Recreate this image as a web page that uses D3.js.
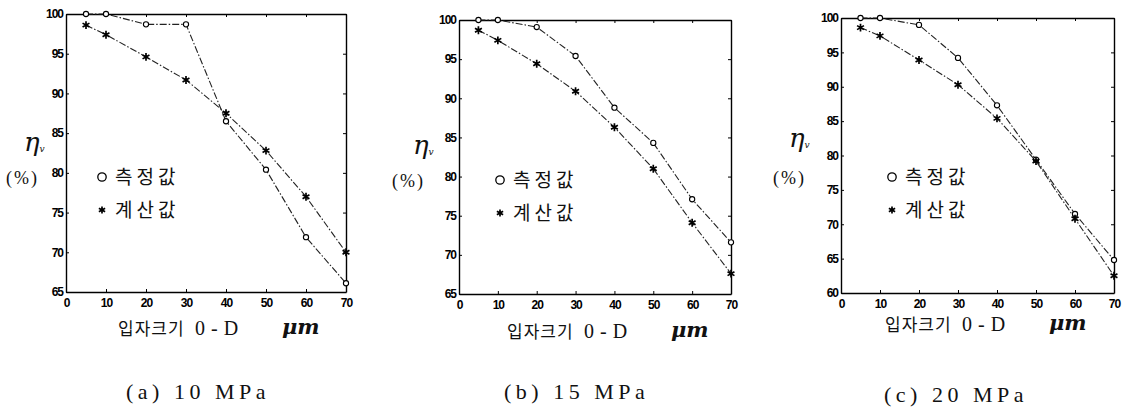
<!DOCTYPE html>
<html>
<head>
<meta charset="utf-8">
<title>입자크기에 따른 효율</title>
<style>
  body { margin: 0; background: #fff; }
  svg { display: block; }
  .tick text { font-family: "Liberation Sans Narrow", "Liberation Sans", sans-serif; font-weight: bold; font-size: 12px; fill: #000; }
  .kr { font-family: "Noto Sans CJK KR", sans-serif; fill: #111; }
  .cap { font-family: "Liberation Serif", serif; fill: #111; }
</style>
</head>
<body>
<script src="https://cdn.jsdelivr.net/npm/d3@7"></script>
<script>
// particle size (um)
var xs = [5, 10, 20, 30, 40, 50, 60, 70];
var xTicks = [0, 10, 20, 30, 40, 50, 60, 70];

// (a) 10 MPa
var measA = [100, 100, 98.7, 98.7, 86.5, 80.4, 71.9, 66.1];
var calcA = [98.6, 97.4, 94.6, 91.7, 87.5, 82.8, 77.0, 70.0];
// (b) 15 MPa
var measB = [100, 100, 99.1, 95.4, 88.8, 84.3, 77.1, 71.6];
var calcB = [98.7, 97.4, 94.4, 90.9, 86.3, 81.0, 74.1, 67.6];
// (c) 20 MPa
var measC = [100, 100, 99.0, 94.2, 87.3, 79.4, 71.5, 64.8];
var calcC = [98.6, 97.4, 93.9, 90.3, 85.4, 79.2, 70.8, 62.5];

var yTicksAB = [65, 70, 75, 80, 85, 90, 95, 100];
var yTicksC = [60, 65, 70, 75, 80, 85, 90, 95, 100];
var captions = ["(a) 10 MPa", "(b) 15 MPa", "(c) 20 MPa"];
var legendLabels = ["측정값", "계산값"];

var svg = d3.select("body").append("svg")
    .attr("width", 1122)
    .attr("height", 412);

var panels = [
    {meas: measA, calc: calcA, yTicks: yTicksAB, box: [66, 346, 14, 292], eta: [24, 151], pct: [6, 184], leg: [102, 177], xl: [118, 335], cap: [126, 399]},
    {meas: measB, calc: calcB, yTicks: yTicksAB, box: [459, 731, 20, 294], eta: [413, 154], pct: [392, 187], leg: [500, 180], xl: [507, 338], cap: [504, 399]},
    {meas: measC, calc: calcC, yTicks: yTicksC, box: [841, 1114, 18, 293], eta: [789, 147], pct: [773, 184], leg: [892, 177], xl: [885, 331], cap: [884, 402]}
];

panels.forEach(function (p, i) {
    var b = p.box;
    var x = d3.scaleLinear().domain([0, 70]).range([b[0], b[1]]);
    var y = d3.scaleLinear().domain(d3.extent(p.yTicks)).range([b[3], b[2]]);
    var g = svg.append("g");

    // frame with inward ticks on all sides
    g.append("g").attr("transform", "translate(0," + b[3] + ")")
        .call(d3.axisBottom(x).tickValues(xTicks).tickSizeInner(-3).tickSizeOuter(0).tickPadding(6));
    g.append("g").attr("transform", "translate(0," + b[2] + ")")
        .call(d3.axisTop(x).tickValues(xTicks).tickSizeInner(-3).tickSizeOuter(0).tickFormat(""));
    g.append("g").attr("transform", "translate(" + b[0] + ",0)")
        .call(d3.axisLeft(y).tickValues(p.yTicks).tickSizeInner(-3).tickSizeOuter(0).tickPadding(3));
    g.append("g").attr("transform", "translate(" + b[1] + ",0)")
        .call(d3.axisRight(y).tickValues(p.yTicks).tickSizeInner(-3).tickSizeOuter(0).tickFormat(""));
    g.selectAll(".domain").attr("stroke", "#000").attr("stroke-width", 1.4);
    g.selectAll(".tick line").attr("stroke", "#000");
    g.selectAll(".tick text").attr("letter-spacing", "-1");

    var line = d3.line().x(function (d) { return x(d[0]); }).y(function (d) { return y(d[1]); });
    var series = [d3.zip(xs, p.meas), d3.zip(xs, p.calc)];
    series.forEach(function (s) {
        g.append("path").datum(s).attr("d", line)
            .attr("fill", "none").attr("stroke", "#222").attr("stroke-width", 1.1)
            .attr("stroke-dasharray", "7,2,1.5,2");
    });

    g.selectAll(".m").data(series[0]).enter().append("circle")
        .attr("cx", function (d) { return x(d[0]); })
        .attr("cy", function (d) { return y(d[1]); })
        .attr("r", 2.6).attr("fill", "#fff").attr("stroke", "#000").attr("stroke-width", 1.1);
    g.selectAll(".c").data(series[1]).enter().append("path")
        .attr("d", d3.symbol(d3.symbolAsterisk, 44))
        .attr("transform", function (d) { return "translate(" + x(d[0]) + "," + y(d[1]) + ")"; })
        .attr("fill", "none").attr("stroke", "#000").attr("stroke-width", 1.7);

    // y label
    var eta = g.append("text").attr("x", p.eta[0]).attr("y", p.eta[1])
        .attr("font-family", "DejaVu Serif, serif").attr("font-style", "italic")
        .attr("font-size", 26).attr("fill", "#111");
    eta.append("tspan").text("η");
    eta.append("tspan").attr("font-size", 9).attr("dy", 1).text("v");
    g.append("text").attr("class", "cap").attr("x", p.pct[0]).attr("y", p.pct[1])
        .attr("font-size", 18).attr("letter-spacing", 2).text("(%)");

    // legend
    var lx = p.leg[0], ly = p.leg[1];
    g.append("circle").attr("cx", lx).attr("cy", ly).attr("r", 4.2)
        .attr("fill", "none").attr("stroke", "#000").attr("stroke-width", 1.3);
    g.append("text").attr("class", "kr").attr("x", lx + 13).attr("y", ly + 7)
        .attr("font-size", 19).attr("letter-spacing", 4).text(legendLabels[0]);
    g.append("path").attr("d", d3.symbol(d3.symbolAsterisk, 36))
        .attr("transform", "translate(" + lx + "," + (ly + 33) + ")")
        .attr("fill", "none").attr("stroke", "#000").attr("stroke-width", 1.7);
    g.append("text").attr("class", "kr").attr("x", lx + 13).attr("y", ly + 40)
        .attr("font-size", 19).attr("letter-spacing", 4).text(legendLabels[1]);

    // x label
    var x0 = p.xl[0], y0 = p.xl[1];
    g.append("text").attr("class", "kr").attr("x", x0).attr("y", y0)
        .attr("font-size", 17).attr("letter-spacing", 1).text("입자크기");
    g.append("text").attr("class", "cap").attr("x", x0 + 77).attr("y", y0)
        .attr("font-size", 20).attr("letter-spacing", 6).text("0-D");
    g.append("text").attr("x", x0 + 164).attr("y", y0 - 1).attr("fill", "#111")
        .attr("font-family", "DejaVu Serif, serif").attr("font-style", "italic")
        .attr("font-weight", "bold").attr("font-size", 21).text("μm");

    // caption
    g.append("text").attr("class", "cap").attr("x", p.cap[0]).attr("y", p.cap[1])
        .attr("font-size", 22).attr("letter-spacing", 4.5).text(captions[i]);
});
</script>
</body>
</html>
